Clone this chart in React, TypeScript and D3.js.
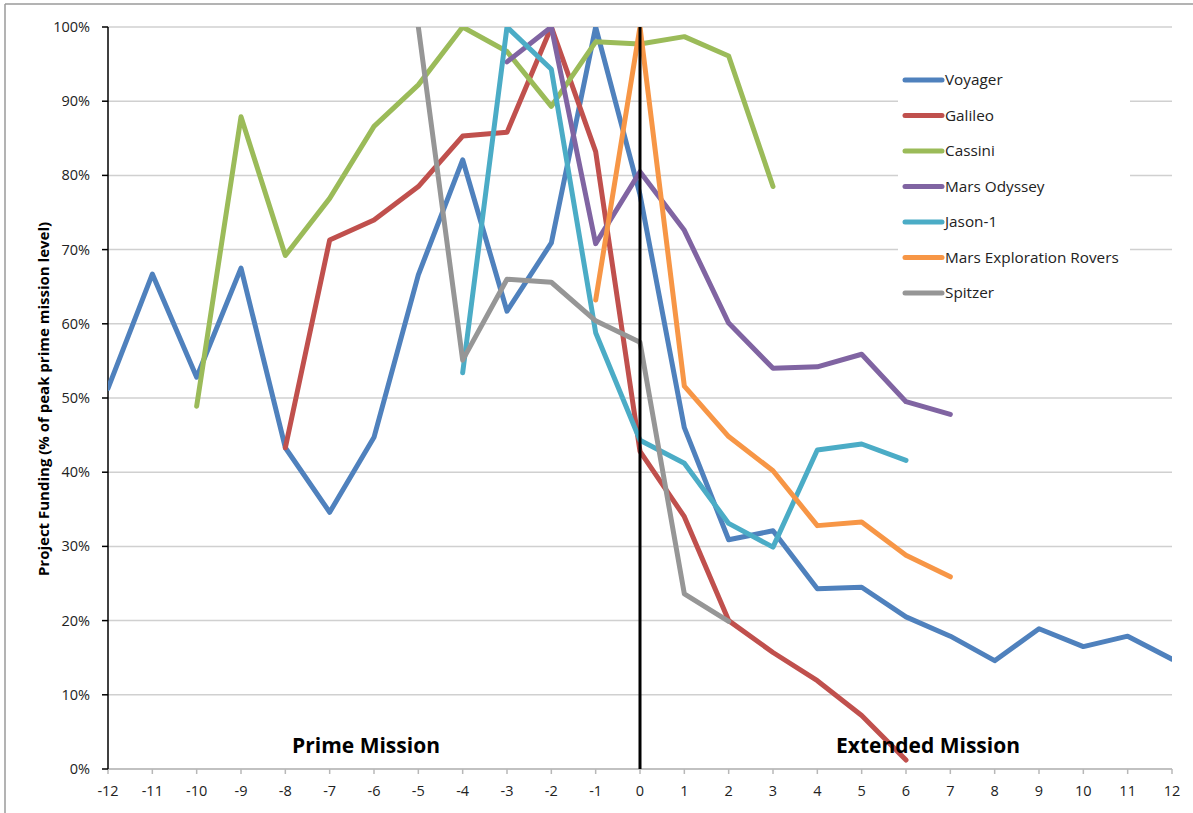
import React from "react";
import * as d3 from "d3";

// ---- data (years relative to end of prime mission; % of peak prime mission level) ----
const voyagerYears = [-12, -11, -10, -9, -8, -7, -6, -5, -4, -3, -2, -1, 0, 1, 2, 3, 4, 5, 6, 7, 8, 9, 10, 11, 12];
const voyagerValues = [51.3, 66.7, 52.8, 67.5, 43.3, 34.6, 44.7, 66.6, 82.1, 61.7, 70.9, 100, 77.4, 46.0, 30.9, 32.1, 24.3, 24.5, 20.5, 17.9, 14.6, 18.9, 16.5, 17.9, 14.8];

const galileoYears = [-8, -7, -6, -5, -4, -3, -2, -1, 0, 1, 2, 3, 4, 5, 6];
const galileoValues = [43.3, 71.3, 74.0, 78.5, 85.3, 85.8, 100, 83.2, 42.8, 34.0, 20.0, 15.7, 11.9, 7.2, 1.2];

const cassiniYears = [-10, -9, -8, -7, -6, -5, -4, -3, -2, -1, 0, 1, 2, 3];
const cassiniValues = [48.9, 87.9, 69.2, 76.9, 86.6, 92.2, 100, 96.7, 89.3, 98.0, 97.7, 98.7, 96.1, 78.5];

const odysseyYears = [-3, -2, -1, 0, 1, 2, 3, 4, 5, 6, 7];
const odysseyValues = [95.3, 100, 70.8, 80.5, 72.6, 60.1, 54.0, 54.2, 55.9, 49.5, 47.8];

const jasonYears = [-4, -3, -2, -1, 0, 1, 2, 3, 4, 5, 6];
const jasonValues = [53.4, 100, 94.3, 58.8, 44.3, 41.2, 33.1, 29.9, 43.0, 43.8, 41.6];

const merYears = [-1, 0, 1, 2, 3, 4, 5, 6, 7];
const merValues = [63.2, 100, 51.6, 44.8, 40.2, 32.8, 33.3, 28.8, 25.9];

const spitzerYears = [-5, -4, -3, -2, -1, 0, 1, 2];
const spitzerValues = [100, 55.1, 66.0, 65.6, 60.4, 57.5, 23.6, 19.9];

const seriesNames = ["Voyager", "Galileo", "Cassini", "Mars Odyssey", "Jason-1", "Mars Exploration Rovers", "Spitzer"];
const seriesColors = ["#4F81BD", "#C0504D", "#9BBB59", "#8064A2", "#4BACC6", "#F79646", "#969696"];
const seriesYears = [voyagerYears, galileoYears, cassiniYears, odysseyYears, jasonYears, merYears, spitzerYears];
const seriesValues = [voyagerValues, galileoValues, cassiniValues, odysseyValues, jasonValues, merValues, spitzerValues];

const xTicks = d3.range(-12, 13);
const yTicks = d3.range(0, 101, 10);

const FONT = "'Open Sans', Lato, sans-serif";

export default function App() {
  const W = 1193, H = 813;
  const left = 108, right = 1172, top = 27, bottom = 769;
  const x = d3.scaleLinear().domain([-12, 12]).range([left, right]);
  const y = d3.scaleLinear().domain([0, 100]).range([bottom, top]);
  const line = d3.line<[number, number]>().x(d => x(d[0])).y(d => y(d[1]));

  const legendX = 905, legendY0 = 80, legendStep = 35.5;

  return (
    <svg width={W} height={H} style={{ position: "absolute", left: 0, top: 0, background: "#fff" }} fontFamily={FONT}>
      <defs>
        <clipPath id="plotclip">
          <rect x={left} y={top} width={right - left} height={bottom - top} />
        </clipPath>
      </defs>
      {/* chart frame */}
      <line x1={5} y1={4} x2={W} y2={4} stroke="#9a9a9a" strokeWidth={1.5} />
      <line x1={5} y1={4} x2={5} y2={H} stroke="#9a9a9a" strokeWidth={1.5} />

      {/* gridlines */}
      {yTicks.map(t => (
        <line key={"g" + t} x1={left} x2={right} y1={y(t)} y2={y(t)} stroke="#d0d0d0" strokeWidth={1.5} />
      ))}

      {/* x axis */}
      <line x1={left} x2={right} y1={bottom} y2={bottom} stroke="#b8b8b8" strokeWidth={1.5} />
      {xTicks.map(t => (
        <g key={"x" + t}>
          <line x1={x(t)} x2={x(t)} y1={bottom} y2={bottom + 5} stroke="#b8b8b8" strokeWidth={1.5} />
          <text x={x(t)} y={bottom + 27} textAnchor="middle" fontSize={14.5} fill="#222">{t}</text>
        </g>
      ))}

      {/* y axis */}
      {yTicks.map(t => (
        <g key={"y" + t}>
          <line x1={left - 6} x2={left} y1={y(t)} y2={y(t)} stroke="#000" strokeWidth={1.5} />
          <text x={left - 18} y={y(t) + 5} textAnchor="end" fontSize={14.5} fill="#222">{t + "%"}</text>
        </g>
      ))}
      <line x1={left} x2={left} y1={top} y2={bottom} stroke="#000" strokeWidth={1.5} />

      <text transform={`translate(49,${(top + bottom) / 2 + 1}) rotate(-90)`} textAnchor="middle" fontSize={15} fontWeight="bold" fill="#000">
        Project Funding (% of peak prime mission level)
      </text>

      {/* series */}
      <g clipPath="url(#plotclip)">
        {seriesNames.map((name, i) => (
          <path
            key={name}
            d={line(seriesYears[i].map((yr, j) => [yr, seriesValues[i][j]] as [number, number])) || ""}
            fill="none"
            stroke={seriesColors[i]}
            strokeWidth={5}
            strokeLinejoin="round"
            strokeLinecap="round"
          />
        ))}
      </g>

      {/* end of prime mission */}
      <line x1={x(0)} x2={x(0)} y1={top} y2={bottom} stroke="#000" strokeWidth={3} />

      {/* annotations */}
      <text x={366} y={753} textAnchor="middle" fontSize={21} fontWeight="bold" fill="#000">Prime Mission</text>
      <text x={928} y={753} textAnchor="middle" fontSize={21} fontWeight="bold" fill="#000">Extended Mission</text>

      {/* legend */}
      <rect x={898} y={60} width={232} height={252} fill="#fff" />
      {seriesNames.map((name, i) => (
        <g key={"l" + name}>
          <line x1={legendX} x2={legendX + 37} y1={legendY0 + i * legendStep} y2={legendY0 + i * legendStep}
            stroke={seriesColors[i]} strokeWidth={5} strokeLinecap="round" />
          <text x={legendX + 40} y={legendY0 + i * legendStep + 5} fontSize={15.3} fill="#222">{name}</text>
        </g>
      ))}
    </svg>
  );
}
